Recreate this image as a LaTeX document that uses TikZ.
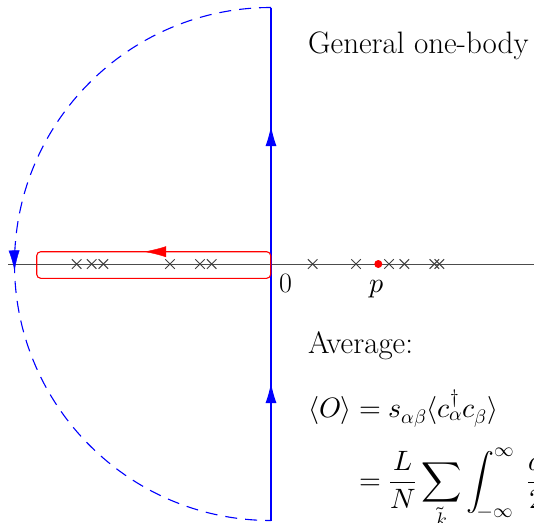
\documentclass[tikz,border=0pt]{standalone}
\usepackage{amsmath}
\usepackage{unicode-math}
\setmathfont{Latin Modern Math}
\usetikzlibrary{arrows.meta,decorations.markings,shapes.misc}
\tikzset{
  contour/.style={blue, line width=1.1pt},
  halfcircle/.style={blue, line width=1.1pt, dash pattern=on 12pt off 8pt},
  axisline/.style={black!70, line width=1pt},
  crossmark/.style={cross out, draw=black!75, line width=1pt, minimum size=8.5pt, inner sep=0pt},
  polebox/.style={red, line width=1.1pt, rounded corners=4pt},
  reddot/.style={circle, fill=red, minimum size=8pt, inner sep=0pt},
  txt/.style={anchor=base west, inner sep=0pt, font=\fontsize{28}{34}\selectfont},
  bigtxt/.style={anchor=base west, inner sep=0pt, font=\fontsize{31}{37}\selectfont},
  markat/.style args={#1 with #2}{postaction={decorate, decoration={markings, mark=at position #1 with {\arrow[#2]{Latex[length=20pt,width=11pt]}}}}}
}
\begin{document}
\begin{tikzpicture}[x=1pt,y=-1pt]
\useasboundingbox (0,0) rectangle (534,522);
\clip (0,0) rectangle (534,522);
% key points
\coordinate (top) at (271,7.5);
\coordinate (bot) at (271,520.5);
\coordinate (axl) at (8,264);
\coordinate (axr) at (540,264);
% real axis
\draw[axisline] (axl) -- (axr);
% imaginary axis contour
\draw[contour, markat={0.268 with blue}, markat={0.769 with blue}] (bot) -- (top);
% dashed semicircle
\draw[halfcircle] (top) arc[start angle=90, end angle=270, radius=256.5pt];
\path[postaction={decorate, decoration={markings, mark=at position 0.508 with {\arrow[blue]{Latex[length=20pt,width=11pt]}}}}] (top) arc[start angle=90, end angle=270, radius=256.5pt];
% red contour around negative poles
\coordinate (r1) at (270.7,278.3);
\coordinate (r2) at (270.7,251.7);
\coordinate (r3) at (36.7,251.7);
\coordinate (r4) at (36.7,278.3);
\draw[polebox] (r1) -- (r2) -- (r3) -- (r4) -- cycle;
\path[postaction={decorate, decoration={markings, mark=at position 0.541 with {\arrow[red]{Latex[length=22pt,width=11pt]}}}}] (r2) -- (r3);
% poles
\foreach \px [count=\i] in {76.7,91.7,103.3,170,200,211.7,312.7,356,389,404.3,434.3,439.3}
  \node[crossmark] (x\i) at (\px,264) {};
\node[reddot] (pp) at (378.3,264) {};
% labels
\node[txt] (zero) at (279,292) {0};
\node[txt] (plab) at (369,292) {$p$};
\node[bigtxt] (title) at (308,53) {General one-body operator};
\node[bigtxt] (avg) at (308,353) {Average:};
\node[txt] (eq) at (308,417) {$\begin{aligned}[t]\langle O\rangle &= s_{\alpha\beta}\langle c^\dagger_\alpha c_\beta\rangle\\[16pt]
 &= \frac{L}{N}\sum_{\tilde k}\int_{-\infty}^{\infty}\;\frac{d\omega}{2\pi}\end{aligned}$};
\end{tikzpicture}
\end{document}
